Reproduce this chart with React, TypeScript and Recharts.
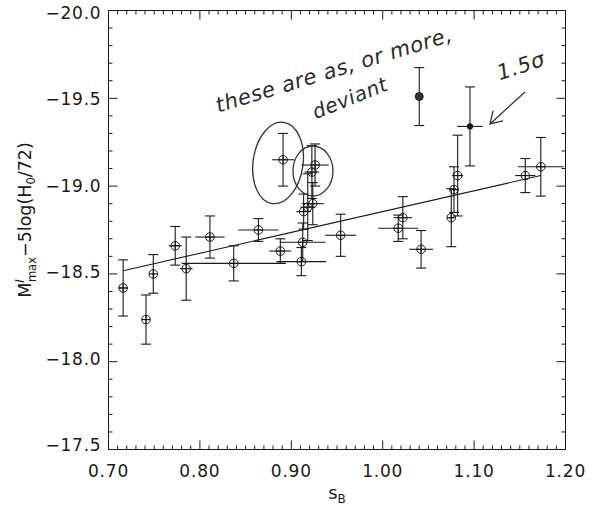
import React from 'react';
import { ScatterChart, Scatter, XAxis, YAxis, ErrorBar, ReferenceDot, ReferenceLine } from 'recharts';

// ---- data ----
const sB = [0.716, 0.741, 0.749, 0.773, 0.785, 0.811, 0.837, 0.864, 0.888, 0.891, 0.911, 0.9125, 0.9135, 0.918, 0.9235, 0.9225, 0.926, 0.954, 1.017, 1.022, 1.042, 1.075, 1.078, 1.082, 1.156, 1.173];
const mag = [-18.42, -18.24, -18.50, -18.66, -18.53, -18.71, -18.56, -18.75, -18.63, -19.15, -18.57, -18.68, -18.855, -18.88, -18.90, -19.08, -19.12, -18.72, -18.76, -18.82, -18.64, -18.82, -18.98, -19.06, -19.06, -19.11];
const sBErr = [0.005, 0.004, 0.002, 0.007, 0.007, 0.016, 0.057, 0.022, 0.012, 0.012, 0.027, 0.025, 0.008, 0.008, 0.012, 0.008, 0.015, 0.017, 0.022, 0.010, 0.013, 0.003, 0.004, 0.006, 0.011, 0.025];
const magErr = [0.16, 0.14, 0.11, 0.11, 0.18, 0.12, 0.10, 0.065, 0.07, 0.15, 0.08, 0.11, 0.10, 0.19, 0.12, 0.15, 0.12, 0.12, 0.075, 0.12, 0.107, 0.165, 0.13, 0.23, 0.097, 0.167];

const devSB = [1.040, 1.0955];
const devMag = [-19.51, -19.34];
const devSBErr = [0, 0.014];
const devMagErr = [0.165, 0.225];

const fitSB = [0.716, 1.173];
const fitMag = [-18.518, -19.06];

const xMajor = [0.7, 0.8, 0.9, 1.0, 1.1, 1.2];
const xTickLabels = ['0.70', '0.80', '0.90', '1.00', '1.10', '1.20'];
const yMajor = [-20, -19.5, -19, -18.5, -18, -17.5];
const yTickLabels = ['\u221220.0', '\u221219.5', '\u221219.0', '\u221218.5', '\u221218.0', '\u221217.5'];
const yLabelShift = [2.5, 1.1, -0.3, -1.7, -3.1, -4.5];

// annotation anchors (data coordinates)
const noteLine1 = { x: 0.9467, y: -19.661, text: 'these are as, or more,' };
const noteLine2 = { x: 0.9642, y: -19.502, text: 'deviant' };
const noteSigma = { x: 1.1513, y: -19.684, text: '1.5\u03c3' };
const arrowTip = { x: 1.1174, y: -19.354 };
const circleLeft = { x: 0.8855, y: -19.132 };
const circleRight = { x: 0.9237, y: -19.086 };

const xTicks = Array.from({ length: 51 }, (_, i) => Math.round(70 + i) / 100);
const yTicks = Array.from({ length: 26 }, (_, i) => Math.round(-200 + i) / 10);

const openData = sB.map((x, i) => ({ x, y: mag[i], ex: sBErr[i], ey: magErr[i] }));
const devData = devSB.map((x, i) => ({ x, y: devMag[i], ex: devSBErr[i], ey: devMagErr[i], k: i }));

const INK = '#1a1a1a';
const FONT = 'DejaVu Sans';

const majorIdx = (arr: number[], v: number) => arr.findIndex((m) => Math.abs(m - v) < 1e-6);

const xTick = (side: 'bottom' | 'top') => (p: any) => {
  const { x, y, payload } = p;
  const mi = majorIdx(xMajor, payload.value);
  const len = mi >= 0 ? 9 : 4;
  const dir = side === 'bottom' ? -1 : 1;
  return (
    <g>
      <line x1={x} y1={y} x2={x} y2={y + dir * len} stroke={INK} strokeWidth={1} />
      {side === 'bottom' && mi >= 0 && (
        <text x={x} y={y + 27} textAnchor="middle" fontFamily={FONT} fontSize={17} letterSpacing={0.8} fill={INK}>
          {xTickLabels[mi]}
        </text>
      )}
    </g>
  );
};

const yTick = (side: 'left' | 'right') => (p: any) => {
  const { x, y, payload } = p;
  const mi = majorIdx(yMajor, payload.value);
  const len = mi >= 0 ? 9 : 4;
  const dir = side === 'left' ? 1 : -1;
  return (
    <g>
      <line x1={x} y1={y} x2={x + dir * len} y2={y} stroke={INK} strokeWidth={1} />
      {side === 'left' && mi >= 0 && (
        <text x={x - 7} y={y + 6 + yLabelShift[mi]} textAnchor="end" fontFamily={FONT} fontSize={17} letterSpacing={0.8} fill={INK}>
          {yTickLabels[mi]}
        </text>
      )}
    </g>
  );
};

const OpenMarker = (p: any) => {
  const { cx, cy } = p;
  const r = 4.3;
  return (
    <g>
      <circle cx={cx} cy={cy} r={r} fill="none" stroke={INK} strokeWidth={1} />
      <line x1={cx - r} y1={cy} x2={cx + r} y2={cy} stroke={INK} strokeWidth={1} />
      <line x1={cx} y1={cy - r} x2={cx} y2={cy + r} stroke={INK} strokeWidth={1} />
    </g>
  );
};

const DevMarker = (p: any) => {
  const { cx, cy, payload } = p;
  if (payload && payload.k === 0) {
    return <circle cx={cx} cy={cy} r={4} fill="#333" stroke={INK} strokeWidth={1} />;
  }
  return <circle cx={cx} cy={cy} r={2.8} fill={INK} stroke={INK} strokeWidth={0.8} />;
};

const NoMarker = () => <g />;

const handText = (text: string, angle: number, size: number) => (p: any) => {
  const { cx, cy } = p;
  return (
    <text
      x={cx}
      y={cy}
      textAnchor="middle"
      dominantBaseline="central"
      transform={`rotate(${angle} ${cx} ${cy})`}
      fontFamily={FONT}
      fontStyle="italic"
      fontSize={size}
      letterSpacing={0.6}
      fill="#2a2a2a"
    >
      {text}
    </text>
  );
};

const handEllipse = (rx: number, ry: number, angle: number) => (p: any) => {
  const { cx, cy } = p;
  return (
    <ellipse
      cx={cx}
      cy={cy}
      rx={rx}
      ry={ry}
      transform={`rotate(${angle} ${cx} ${cy})`}
      fill="none"
      stroke="#333"
      strokeWidth={1.3}
    />
  );
};

const ArrowShape = (p: any) => {
  const { cx, cy } = p;
  return (
    <g stroke="#333" strokeWidth={1.3} fill="none">
      <line x1={cx} y1={cy} x2={cx + 35} y2={cy - 32} />
      <polyline points={`${cx + 3},${cy - 13} ${cx},${cy} ${cx + 13},${cy - 3}`} />
    </g>
  );
};

const YLabel = (props: any) => {
  const vb = props.viewBox || { x: 0, y: 0, width: 0, height: 0 };
  const cx = vb.x + 31;
  const cy = vb.y + vb.height / 2 - 10;
  return (
    <text
      x={cx}
      y={cy}
      transform={`rotate(-90 ${cx} ${cy})`}
      textAnchor="middle"
      fontFamily={FONT}
      fontSize={17.5}
      fill={INK}
    >
      <tspan>M</tspan>
      <tspan dy={-7} fontSize={12} fontStyle="italic">I</tspan>
      <tspan dx={-3} dy={12} fontSize={11.5}>max</tspan>
      <tspan dy={-5}>{'\u22125log(H'}</tspan>
      <tspan dy={4} fontSize={11.5}>0</tspan>
      <tspan dy={-4}>/72)</tspan>
    </text>
  );
};

const XLabel = (props: any) => {
  const vb = props.viewBox || { x: 0, y: 0, width: 0, height: 0 };
  const cx = vb.x + vb.width / 2;
  const cy = vb.y + 49;
  return (
    <text x={cx} y={cy} textAnchor="middle" fontFamily={FONT} fontSize={18} fill={INK}>
      <tspan>s</tspan>
      <tspan dy={4} fontSize={12}>B</tspan>
    </text>
  );
};

export default function App() {
  return (
    <div style={{ position: 'absolute', left: 0, top: 0, width: 593, height: 508, background: '#fff' }}>
      <ScatterChart
        width={593}
        height={508}
        margin={{ top: 9.5, right: 26.5, bottom: 0, left: 0 }}
      >
        <XAxis
          xAxisId="b"
          type="number"
          dataKey="x"
          domain={[0.7, 1.2]}
          allowDataOverflow
          ticks={xTicks}
          interval={0}
          height={58.5}
          tickSize={0}
          tickMargin={0}
          tickLine={false}
          axisLine={{ stroke: INK, strokeWidth: 1 }}
          tick={xTick('bottom')}
          label={XLabel}
        />
        <XAxis
          xAxisId="t"
          orientation="top"
          type="number"
          dataKey="x"
          domain={[0.7, 1.2]}
          allowDataOverflow
          ticks={xTicks}
          interval={0}
          height={1}
          tickSize={0}
          tickMargin={0}
          tickLine={false}
          axisLine={{ stroke: INK, strokeWidth: 1 }}
          tick={xTick('top')}
        />
        <YAxis
          yAxisId="l"
          type="number"
          dataKey="y"
          domain={[-20, -17.5]}
          reversed
          allowDataOverflow
          ticks={yTicks}
          interval={0}
          width={108.5}
          tickSize={0}
          tickMargin={0}
          tickLine={false}
          axisLine={{ stroke: INK, strokeWidth: 1 }}
          tick={yTick('left')}
          label={YLabel}
        />
        <YAxis
          yAxisId="r"
          orientation="right"
          type="number"
          dataKey="y"
          domain={[-20, -17.5]}
          reversed
          allowDataOverflow
          ticks={yTicks}
          interval={0}
          width={1}
          tickSize={0}
          tickMargin={0}
          tickLine={false}
          axisLine={{ stroke: INK, strokeWidth: 1 }}
          tick={yTick('right')}
        />

        <Scatter xAxisId="t" yAxisId="r" data={openData} shape={NoMarker} legendType="none" isAnimationActive={false} />

        <ReferenceLine
          xAxisId="b"
          yAxisId="l"
          segment={[{ x: fitSB[0], y: fitMag[0] }, { x: fitSB[1], y: fitMag[1] }]}
          stroke={INK}
          strokeWidth={1.1}
          ifOverflow="visible"
        />

        <Scatter xAxisId="b" yAxisId="l" data={openData} shape={OpenMarker} isAnimationActive={false}>
          <ErrorBar dataKey="ey" direction="y" width={5} stroke={INK} strokeWidth={1.1} isAnimationActive={false} />
          <ErrorBar dataKey="ex" direction="x" width={0} stroke={INK} strokeWidth={1.1} isAnimationActive={false} />
        </Scatter>

        <Scatter xAxisId="b" yAxisId="l" data={devData} shape={DevMarker} isAnimationActive={false}>
          <ErrorBar dataKey="ey" direction="y" width={5} stroke={INK} strokeWidth={1.1} isAnimationActive={false} />
          <ErrorBar dataKey="ex" direction="x" width={0} stroke={INK} strokeWidth={1.1} isAnimationActive={false} />
        </Scatter>

        <ReferenceDot xAxisId="b" yAxisId="l" x={circleLeft.x} y={circleLeft.y} ifOverflow="visible" shape={handEllipse(25, 41, 8)} />
        <ReferenceDot xAxisId="b" yAxisId="l" x={circleRight.x} y={circleRight.y} ifOverflow="visible" shape={handEllipse(20, 25, 0)} />
        <ReferenceDot xAxisId="b" yAxisId="l" x={noteLine1.x} y={noteLine1.y} ifOverflow="visible" shape={handText(noteLine1.text, -17, 21)} />
        <ReferenceDot xAxisId="b" yAxisId="l" x={noteLine2.x} y={noteLine2.y} ifOverflow="visible" shape={handText(noteLine2.text, -22, 20)} />
        <ReferenceDot xAxisId="b" yAxisId="l" x={noteSigma.x} y={noteSigma.y} ifOverflow="visible" shape={handText(noteSigma.text, -18, 21)} />
        <ReferenceDot xAxisId="b" yAxisId="l" x={arrowTip.x} y={arrowTip.y} ifOverflow="visible" shape={ArrowShape} />
      </ScatterChart>
    </div>
  );
}
